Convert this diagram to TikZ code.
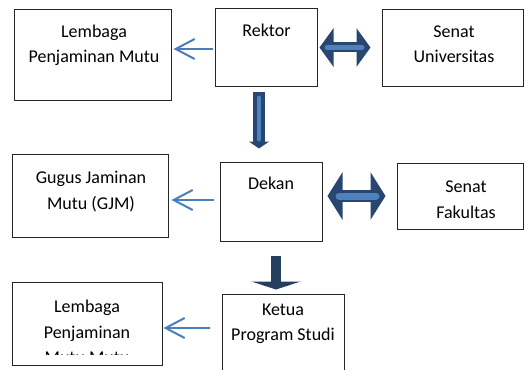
\documentclass[tikz,border=0pt]{standalone}
\usepackage{fontspec}
\setmainfont{Carlito}
\usetikzlibrary{arrows.meta}

\definecolor{linkblue}{HTML}{4A7EBB}
\definecolor{darknavy}{HTML}{284670}
\definecolor{fillblue}{HTML}{4F81BD}
\definecolor{solidnavy}{HTML}{243F60}

\tikzset{
  box/.style={draw=black!85, line width=1pt, inner sep=0pt},
  txt/.style={font=\fontsize{18}{25.7}\selectfont, align=center, inner sep=0pt, anchor=base},
  report/.style={draw=linkblue, line width=2pt, -{Straight Barb[length=19pt,width=20pt]}},
  twoway/.style n args={3}{draw=darknavy, line width=#1, {Triangle[length=#2,width=#3]}-{Triangle[length=#2,width=#3]}},
  innerbar/.style={draw=fillblue, line width=#1, line cap=round},
}

\begin{document}
\begin{tikzpicture}[x=1pt, y=-1pt]
    \clip (0,0) rectangle (524,369);

    % boxes
    \node[box, minimum width=157pt, minimum height=90pt] (lpm) at (92.5,55) {};
    \node[box, minimum width=102pt, minimum height=77pt] (rektor) at (266,47.5) {};
    \node[box, minimum width=141pt, minimum height=76pt] (senatu) at (452.5,48) {};
    \node[box, minimum width=156pt, minimum height=83pt] (gjm) at (90,195.5) {};
    \node[box, minimum width=102pt, minimum height=79pt] (dekan) at (271,201.5) {};
    \node[box, minimum width=126pt, minimum height=66pt] (senatf) at (460,196) {};
    \node[box, minimum width=150pt, minimum height=83pt] (lpmb) at (87,323.5) {};
    \node[box, minimum width=122pt, minimum height=86pt] (kaprodi) at (283,337) {};

    % texts (base = last line)
    \node[txt] (lpmtext) at (94,63) {Lembaga\\Penjaminan Mutu};
    \node[txt] (rektortext) at (266.5,37) {Rektor};
    \node[txt] (senatutext) at (454,63) {Senat\\Universitas};
    \node[txt] (gjmtext) at (91,209) {Gugus Jaminan\\Mutu (GJM)};
    \node[txt] (dekantext) at (271,189.3) {Dekan};
    \node[txt] (senatftext) at (466,218.4) {Senat\\Fakultas};
    \node[txt] (kaprodtext) at (283,340.7) {Ketua\\Program Studi};
    \begin{scope}
        \clip (0,0) rectangle (524,354);
        \node[txt] (lpmbtext) at (87,363.7) {Lembaga\\Penjaminan\\Mutu Mutu};
    \end{scope}

    % thin arrows to quality units
    \draw[report, shorten <=2pt, shorten >=2pt] ([yshift=-1.5pt]rektor.west) -- ([yshift=-1.5pt]rektor.west -| lpm.east);
    \draw[report, shorten <=6pt, shorten >=3pt] ([yshift=1.5pt]dekan.west) -- ([yshift=1.5pt]dekan.west -| gjm.east);
    \draw[report, shorten <=12pt, shorten >=1pt] ([yshift=9pt]kaprodi.west) -- ([yshift=9pt]kaprodi.west -| lpmb.east);

    % two-way arrows to the senates
    \draw[twoway={10pt}{14pt}{38pt}, shorten <=2pt, shorten >=11pt] (rektor.east) -- (rektor.east -| senatu.west);
    \draw[innerbar=5pt, shorten <=9.5pt, shorten >=19.5pt] (rektor.east) -- (rektor.east -| senatu.west);
    \draw[twoway={12.7pt}{15pt}{47pt}, shorten <=5pt, shorten >=11pt] (senatf.west -| dekan.east) -- (senatf.west);
    \draw[innerbar=7pt, shorten <=16.5pt, shorten >=20.5pt] (senatf.west -| dekan.east) -- (senatf.west);

    % downward arrows
    \draw[darknavy, line width=12pt, -{Triangle[length=7pt,width=20pt]}, shorten <=5pt, shorten >=13pt] ([xshift=-7pt]rektor.south) -- ([xshift=-7pt]rektor.south |- dekan.north);
    \draw[innerbar=4pt, shorten <=11pt, shorten >=22pt] ([xshift=-7pt]rektor.south) -- ([xshift=-7pt]rektor.south |- dekan.north);
    \draw[solidnavy, line width=10pt, -{Triangle[length=8pt,width=49pt]}, shorten <=14pt, shorten >=4pt] ([xshift=5pt]dekan.south) -- ([xshift=5pt]dekan.south |- kaprodi.north);
\end{tikzpicture}
\end{document}
